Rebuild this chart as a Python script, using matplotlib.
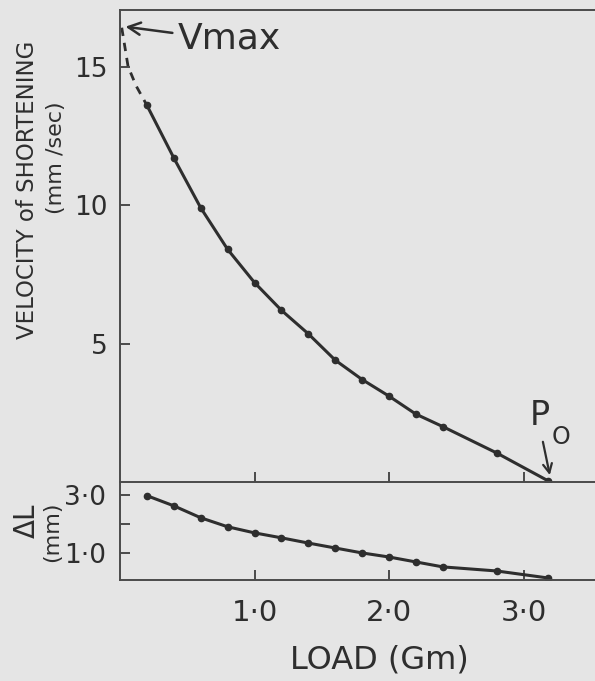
import matplotlib
matplotlib.use("Agg")
import matplotlib.pyplot as plt
from matplotlib import font_manager
from matplotlib.ticker import FixedLocator, FuncFormatter

# velocity of shortening vs load
load = [0.2, 0.4, 0.6, 0.8, 1.0, 1.2, 1.4, 1.6, 1.8, 2.0, 2.2, 2.4, 2.8, 3.18]
velocity = [13.6, 11.7, 9.9, 8.4, 7.2, 6.2, 5.35, 4.4, 3.7, 3.1, 2.45, 2.0, 1.05, 0.05]

# extrapolated (dashed) part up to Vmax
extrap_load = [0.013, 0.06, 0.12, 0.2]
extrap_vel = [16.4, 15.0, 14.3, 13.6]

# shortening distance vs load
delta_l = [2.97, 2.62, 2.21, 1.90, 1.69, 1.52, 1.34, 1.17, 1.0, 0.86, 0.69, 0.52, 0.38, 0.14]

x_ticks = [1.0, 2.0, 3.0]
v_ticks = [5, 10, 15]
dl_ticks = [1.0, 2.0, 3.0]
dl_labels = {1.0: "1·0", 3.0: "3·0"}

names = {f.name for f in font_manager.fontManager.ttflist}
fam = "Liberation Sans Narrow" if "Liberation Sans Narrow" in names else "DejaVu Sans"
plt.rcParams["font.family"] = [fam, "DejaVu Sans"]

bg = "#e5e5e5"
ink = "#2e2e2e"
spine = "#4a4a4a"

W, H = 595, 681
fig = plt.figure(figsize=(W / 100, H / 100), dpi=100, facecolor=bg)

ax1 = fig.add_axes([120 / W, 1 - 482 / H, 1 - 120 / W, 472 / H])
ax2 = fig.add_axes([120 / W, 1 - 580 / H, 1 - 120 / W, 98 / H])

xmax = 475 / 134.5
for ax in (ax1, ax2):
    ax.set_facecolor("none")
    ax.set_xlim(0, xmax)
    ax.spines["right"].set_visible(False)
    for s in ("left", "bottom", "top"):
        ax.spines[s].set_color(spine)
        ax.spines[s].set_linewidth(1.4)
    ax.xaxis.set_major_locator(FixedLocator(x_ticks))
    ax.tick_params(direction="in", length=7, width=1.4, color=spine, labelcolor=ink)
ax2.spines["top"].set_visible(False)

# upper panel
ax1.plot(extrap_load, extrap_vel, color=ink, lw=2.0, dashes=(3, 2.5))
ax1.plot(load, velocity, color=ink, lw=2.2, marker="o", ms=4.5)
ax1.set_ylim(0, 17.04)
ax1.yaxis.set_major_locator(FixedLocator(v_ticks))
ax1.tick_params(axis="y", labelsize=19, pad=9)
ax1.tick_params(axis="x", labelbottom=False)

ax1.annotate("", xy=(0.02, 16.45), xytext=(0.41, 16.2),
             arrowprops=dict(arrowstyle="->", lw=1.8, color=ink, mutation_scale=22))
ax1.text(0.43, 16.0, "Vmax", fontsize=26, color=ink, va="center", ha="left")

ax1.text(3.12, 2.4, "P", fontsize=24, color=ink, ha="center", va="center")
ax1.text(3.28, 1.62, "O", fontsize=17, color=ink, ha="center", va="center")
ax1.annotate("", xy=(3.2, 0.15), xytext=(3.14, 1.55),
             arrowprops=dict(arrowstyle="->", lw=1.6, color=ink, mutation_scale=16))

# lower panel
ax2.plot(load, delta_l, color=ink, lw=2.2, marker="o", ms=4.5)
ax2.set_ylim(0.069, 3.44)
ax2.yaxis.set_major_locator(FixedLocator(dl_ticks))
ax2.yaxis.set_major_formatter(FuncFormatter(lambda v, p: dl_labels.get(v, "")))
ax2.xaxis.set_major_formatter(FuncFormatter(lambda v, p: f"{v:.1f}".replace(".", "·")))
ax2.tick_params(axis="y", labelsize=19, pad=10)
ax2.tick_params(axis="x", labelsize=21, pad=14)

# axis titles
fig.text(28 / W, 1 - 190 / H, "VELOCITY of SHORTENING", rotation=90, fontsize=16.5,
         color=ink, ha="center", va="center")
fig.text(56 / W, 1 - 158 / H, "(mm /sec)", rotation=90, fontsize=16,
         color=ink, ha="center", va="center")
fig.text(27 / W, 1 - 521 / H, "ΔL", rotation=90, fontsize=20,
         color=ink, ha="center", va="center")
fig.text(52 / W, 1 - 532 / H, "(mm)", rotation=90, fontsize=16,
         color=ink, ha="center", va="center")
fig.text(379 / W, 1 - 660 / H, "LOAD (Gm)", fontsize=23, color=ink,
         ha="center", va="center")

fig.savefig("out.png", dpi=100, facecolor=bg)
